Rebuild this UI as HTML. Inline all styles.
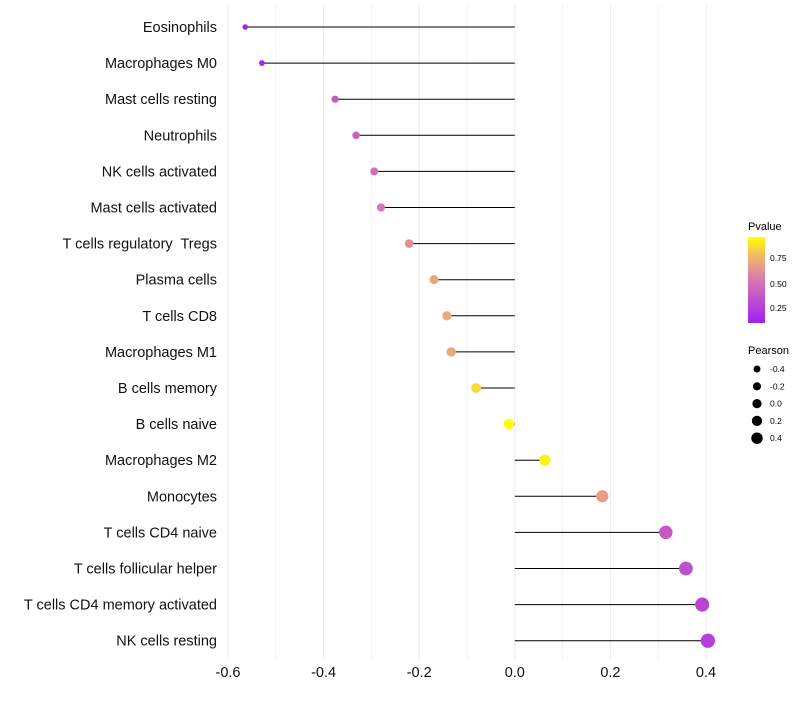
<!DOCTYPE html>
<html><head><meta charset="utf-8"><style>
body{margin:0;background:#fff;font-family:"Liberation Sans",sans-serif}
text{white-space:pre}
</style></head><body>
<svg id="c" width="800" height="700" xmlns="http://www.w3.org/2000/svg">
<defs><linearGradient id="pg" x1="0" y1="1" x2="0" y2="0">
<stop offset="0" stop-color="#A020F0"/><stop offset="0.5" stop-color="#D878B0"/><stop offset="0.75" stop-color="#F0B070"/><stop offset="1" stop-color="#FFFF00"/></linearGradient></defs>
<g id="grid"></g>
<g id="marks"></g>
<g id="labels"></g>
<g font-size="10">
<text x="748" y="230" font-size="11">Pvalue</text>
<rect x="748" y="237" width="17" height="86" fill="url(#pg)"/>
<text x="770" y="261" font-size="8.5">0.75</text><text x="770" y="287" font-size="8.5">0.50</text><text x="770" y="311" font-size="8.5">0.25</text>
</g>
<g id="sleg">
<text x="748" y="354" font-size="11">Pearson</text>
</g>
</svg>
<script>
const categories=["Eosinophils","Macrophages M0","Mast cells resting","Neutrophils","NK cells activated","Mast cells activated","T cells regulatory  Tregs","Plasma cells","T cells CD8","Macrophages M1","B cells memory","B cells naive","Macrophages M2","Monocytes","T cells CD4 naive","T cells follicular helper","T cells CD4 memory activated","NK cells resting"];
const pearson=[-0.564,-0.529,-0.376,-0.332,-0.294,-0.280,-0.221,-0.169,-0.142,-0.133,-0.081,-0.012,0.063,0.183,0.316,0.358,0.392,0.404];
const pvalue=[0.12,0.14,0.36,0.40,0.46,0.48,0.60,0.70,0.72,0.72,0.86,0.97,0.92,0.68,0.36,0.32,0.27,0.24];
const xTicks=[-0.6,-0.4,-0.2,0.0,0.2,0.4];
const xTickLabels=["-0.6","-0.4","-0.2","0.0","0.2","0.4"];
const sizeLegend=[-0.4,-0.2,0.0,0.2,0.4];
const sizeLegendLabels=["-0.4","-0.2","0.0","0.2","0.4"];
const NS="http://www.w3.org/2000/svg";
const x=v=>514.8+v*478;
const y=i=>27+i*36.1;
const r=v=>5.3+4.5*v;
const rl=v=>4.6+2.8*v;
function mk(t,a,p){const e=document.createElementNS(NS,t);for(const k in a)e.setAttribute(k,a[k]);p.appendChild(e);return e;}
function lerp(a,b,t){return a.map((v,i)=>Math.round(v+(b[i]-v)*t));}
function col(p){const s=[[0.1,[160,32,240]],[0.5,[216,120,176]],[0.75,[240,176,112]],[0.96,[255,255,0]]];
 if(p<=s[0][0])return`rgb(${s[0][1]})`;for(let i=1;i<s.length;i++)if(p<=s[i][0]){const t=(p-s[i-1][0])/(s[i][0]-s[i-1][0]);return`rgb(${lerp(s[i-1][1],s[i][1],t)})`;}return"rgb(255,255,0)";}
const g=document.getElementById('grid'),m=document.getElementById('marks'),lb=document.getElementById('labels');
for(let v=-0.6;v<=0.4001;v+=0.1){const l=mk('line',{x1:x(v),x2:x(v),y1:5,y2:660,stroke:'#ebebeb','stroke-width':Math.abs(Math.round(v*10)%2)===0?1:0.6},g);

}
categories.forEach((c,i)=>{
 const s=mk('line',{x1:x(0),x2:x(pearson[i]),y1:y(i),y2:y(i),stroke:'#000','stroke-width':1},m);
 
 
 const d=mk('circle',{cx:x(pearson[i]),cy:y(i),r:r(pearson[i]),fill:col(pvalue[i])},m);
 
 
 const t=mk('text',{x:217,y:y(i)+5,'text-anchor':'end','font-size':14.5,fill:'#111'},lb);t.textContent=c;
 
 
});
xTicks.forEach((v,i)=>{const t=mk('text',{x:x(v),y:677,'text-anchor':'middle','font-size':14.5,fill:'#111'},lb);t.textContent=xTickLabels[i];
 
 });
const sl=document.getElementById('sleg');
sizeLegend.forEach((v,i)=>{const cy=369+i*17.3;
 const c=mk('circle',{cx:757,cy:cy,r:rl(v),fill:'#000'},sl);
 
 
 const t=mk('text',{x:770,y:cy+3,'font-size':8.5},sl);t.textContent=sizeLegendLabels[i];
 
 });
</script>
</body></html>
